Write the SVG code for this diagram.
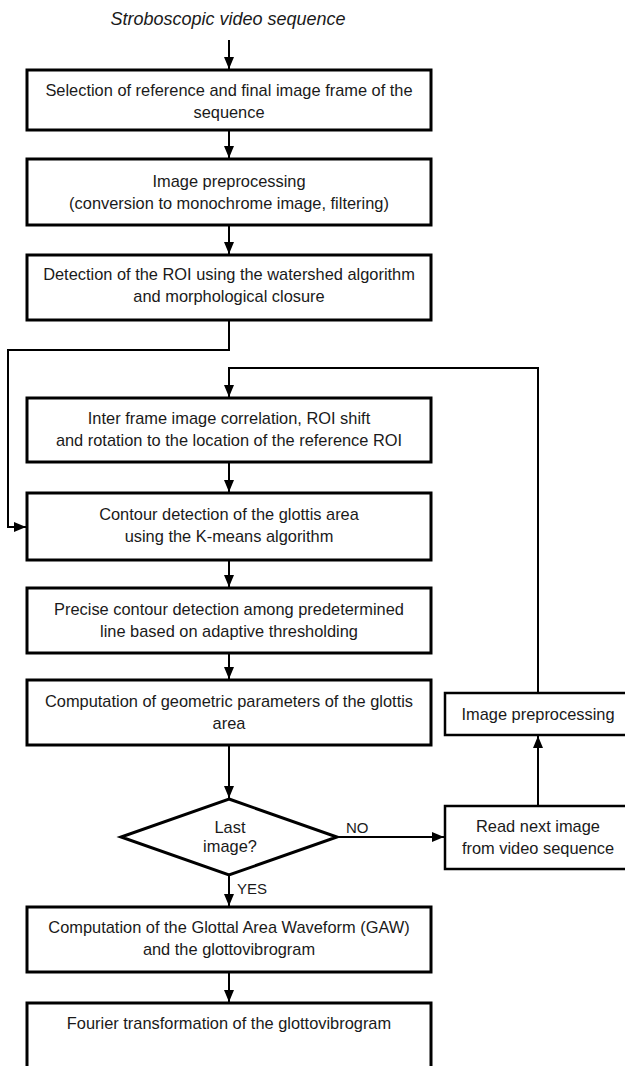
<svg xmlns="http://www.w3.org/2000/svg" width="625" height="1066" viewBox="0 0 625 1066">
<style>
.box{fill:#fff;stroke:#000;stroke-width:3}
.sbox{fill:#fff;stroke:#000;stroke-width:2.5}
.t{font-family:"Liberation Sans",Arial,sans-serif;font-size:16.4px;fill:#1a1a1a;text-anchor:middle}
.lbl{font-family:"Liberation Sans",Arial,sans-serif;font-size:15px;fill:#1a1a1a}
.c{fill:none;stroke:#000;stroke-width:2}
</style>
<defs>
<marker id="ah" markerUnits="userSpaceOnUse" markerWidth="12" markerHeight="12" refX="12" refY="6" orient="auto">
<path d="M0,1 L12,6 L0,11 Z" fill="#000"/>
</marker>
</defs>
<rect width="625" height="1066" fill="#fff"/>
<text id="title" x="228" y="25" class="t" style="font-size:18px;font-style:italic">Stroboscopic video sequence</text>

<g id="connectors">
<line class="c" x1="229" y1="40" x2="229" y2="69" marker-end="url(#ah)"/>
<line class="c" x1="229" y1="130" x2="229" y2="158" marker-end="url(#ah)"/>
<line class="c" x1="229" y1="225" x2="229" y2="254" marker-end="url(#ah)"/>
<polyline class="c" points="229,320 229,350 8,350 8,527 26,527" marker-end="url(#ah)"/>
<polyline class="c" points="538,693 538,368 229,368 229,397" marker-end="url(#ah)"/>
<line class="c" x1="229" y1="462" x2="229" y2="492" marker-end="url(#ah)"/>
<line class="c" x1="229" y1="560" x2="229" y2="587" marker-end="url(#ah)"/>
<line class="c" x1="229" y1="653" x2="229" y2="679" marker-end="url(#ah)"/>
<line class="c" x1="229" y1="745" x2="229" y2="798" marker-end="url(#ah)"/>
<line class="c" x1="229" y1="875" x2="229" y2="906" marker-end="url(#ah)"/>
<line class="c" x1="337" y1="837" x2="444" y2="837" marker-end="url(#ah)"/>
<line class="c" x1="538" y1="806" x2="538" y2="736" marker-end="url(#ah)"/>
<line class="c" x1="229" y1="972" x2="229" y2="1002" marker-end="url(#ah)"/>
</g>

<g id="n1"><rect class="box" x="27" y="70" width="404" height="60"/>
<text class="t" x="229" y="96">Selection of reference and final image frame of the</text>
<text class="t" x="229" y="118">sequence</text></g>

<g id="n2"><rect class="box" x="27" y="159" width="404" height="66"/>
<text class="t" x="229" y="187">Image preprocessing</text>
<text class="t" x="229" y="209">(conversion to monochrome image, filtering)</text></g>

<g id="n3"><rect class="box" x="27" y="255" width="404" height="65"/>
<text class="t" x="229" y="280">Detection of the ROI using the watershed algorithm</text>
<text class="t" x="229" y="302">and morphological closure</text></g>

<g id="n4"><rect class="box" x="27" y="398" width="404" height="64"/>
<text class="t" x="229" y="424">Inter frame image correlation, ROI shift</text>
<text class="t" x="229" y="446">and rotation to the location of the reference ROI</text></g>

<g id="n5"><rect class="box" x="27" y="493" width="404" height="67"/>
<text class="t" x="229" y="520">Contour detection of the glottis area</text>
<text class="t" x="229" y="542">using the K-means algorithm</text></g>

<g id="n6"><rect class="box" x="27" y="588" width="404" height="65"/>
<text class="t" x="229" y="615">Precise contour detection among predetermined</text>
<text class="t" x="229" y="637">line based on adaptive thresholding</text></g>

<g id="n7"><rect class="box" x="27" y="680" width="404" height="65"/>
<text class="t" x="229" y="707">Computation of geometric parameters of the glottis</text>
<text class="t" x="229" y="729">area</text></g>

<g id="decision"><polygon class="box" points="229,799 337,837 229,875 121,837"/>
<text class="t" x="230" y="833">Last</text>
<text class="t" x="230" y="852">image?</text></g>

<text id="lblNo" class="lbl" x="346" y="833">NO</text>
<text id="lblYes" class="lbl" x="237" y="894">YES</text>

<g id="readNext"><rect class="sbox" x="445" y="806" width="200" height="63"/>
<text class="t" x="538" y="832">Read next image</text>
<text class="t" x="538" y="854">from video sequence</text></g>

<g id="imgPre"><rect class="sbox" x="445" y="693" width="200" height="42"/>
<text class="t" x="538" y="720">Image preprocessing</text></g>

<g id="n8"><rect class="box" x="27" y="907" width="404" height="65"/>
<text class="t" x="229" y="933">Computation of the Glottal Area Waveform (GAW)</text>
<text class="t" x="229" y="955">and the glottovibrogram</text></g>

<g id="n9"><rect class="box" x="27" y="1003" width="404" height="80"/>
<text class="t" x="229" y="1029">Fourier transformation of the glottovibrogram</text></g>
</svg>
